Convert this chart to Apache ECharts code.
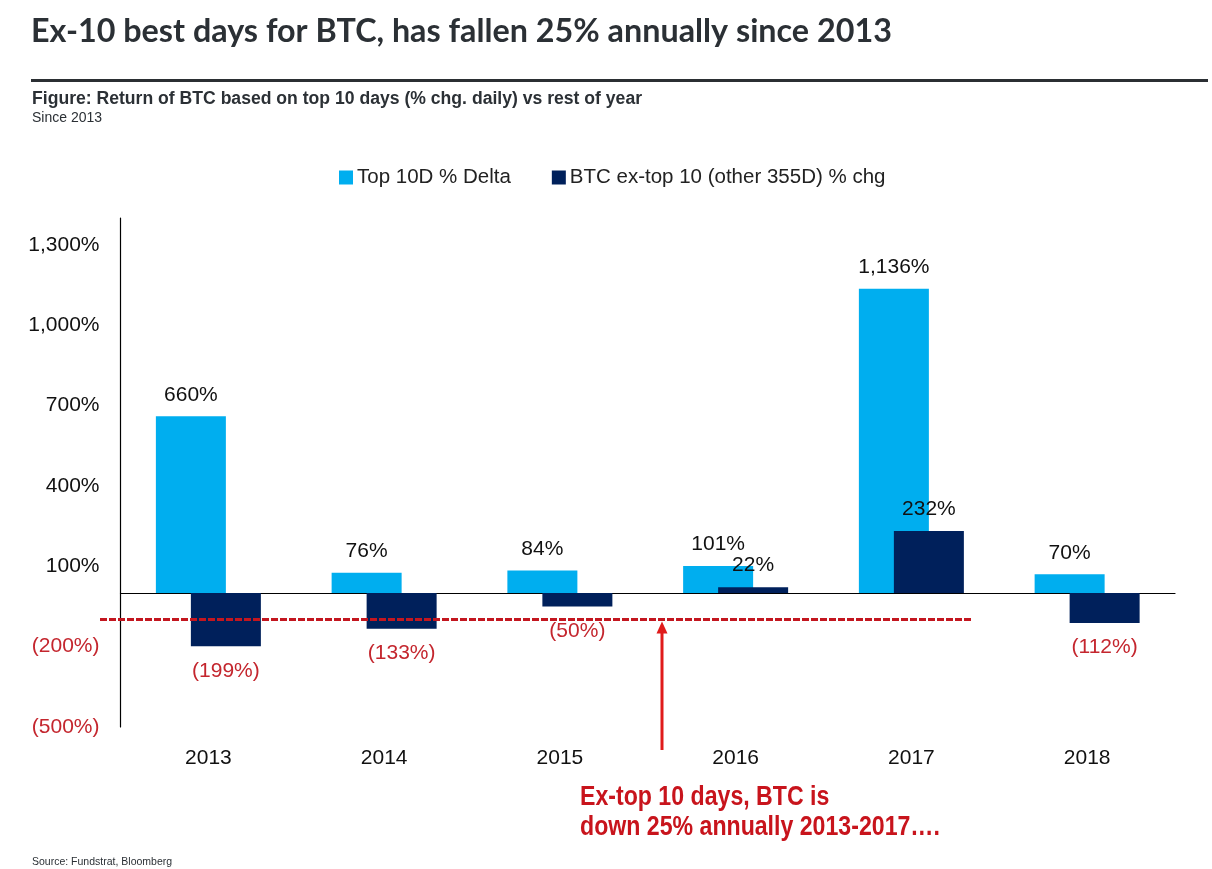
<!DOCTYPE html>
<html>
<head>
<meta charset="utf-8">
<title>BTC ex-10 best days</title>
<style>
	html, body { margin: 0; padding: 0; background: #fff; }
	#chart { width: 1212px; height: 869px; }
</style>
<script src="https://cdn.jsdelivr.net/npm/echarts@6/dist/echarts.min.js"></script>
</head>
<body>
<div id="chart"></div>
<script>
var years = ['2013', '2014', '2015', '2016', '2017', '2018'];
var top10Values = [660, 76, 84, 101, 1136, 70];
var exTop10Values = [-199, -133, -50, 22, 232, -112];
var seriesNames = ['Top 10D % Delta', 'BTC ex-top 10 (other 355D) % chg'];
// average of the red dashed line
var dashedLevel = -99;

var SANS = '"Liberation Sans", Arial, sans-serif';
var RED = '#c4262e';

// 1136 -> 1,136%  -199 -> (199%)
function pct(v) {
	var s = Math.abs(v).toLocaleString('en-US') + '%';
	return v < 0 ? '(' + s + ')' : s;
}

// negative values carry a red label, positive ones stay black
function barData(values) {
	var out = [];
	for (var i = 0; i < values.length; i++) {
		out[i] = {
			value: values[i],
			label: {
				position: values[i] < 0 ? 'bottom' : 'top',
				distance: values[i] < 0 ? 14 : 11,
				color: values[i] < 0 ? RED : '#111'
			}
		};
	}
	return out;
}

function barSeries(name, values, color) {
	return {
		name: name,
		type: 'bar',
		barWidth: 70,
		barGap: '-50%',
		itemStyle: { color: color },
		label: {
			show: true,
			fontFamily: SANS,
			fontSize: 21,
			formatter: function(p) { return pct(p.value); }
		},
		data: barData(values)
	};
}

var myChart = echarts.init(document.getElementById('chart'));

var option = {
	animation: false,
	backgroundColor: '#fff',
	title: [
		{
			text: 'Ex-10 best days for BTC, has fallen 25% annually since 2013',
			left: 26, top: 11,
			textStyle: { fontFamily: 'Lato', fontWeight: 'bold', fontSize: 32.3, color: '#2b3035' }
		},
		{
			text: 'Figure: Return of BTC based on top 10 days (% chg. daily) vs rest of year',
			left: 27, top: 85,
			textStyle: { fontFamily: SANS, fontWeight: 'bold', fontSize: 17.6, color: '#2b3035' }
		},
		{
			text: 'Since 2013',
			left: 27, top: 106,
			textStyle: { fontFamily: SANS, fontWeight: 'normal', fontSize: 14, color: '#2b3035' }
		},
		{
			text: 'Source: Fundstrat, Bloomberg',
			left: 27, top: 852,
			textStyle: { fontFamily: SANS, fontWeight: 'normal', fontSize: 10.5, color: '#2b3035' }
		}
	],
	legend: {
		left: 334,
		top: 162,
		icon: 'rect',
		itemWidth: 14,
		itemHeight: 14,
		itemGap: 41,
		textStyle: { fontFamily: SANS, fontSize: 20.5, color: '#222', padding: [0, 0, 0, -1] },
		data: seriesNames
	},
	grid: { left: 120.5, right: 37, top: 218, bottom: 142 },
	xAxis: [
		{
			type: 'category',
			data: years,
			position: 'bottom',
			axisLine: { show: false, onZero: false },
			axisTick: { show: false },
			axisLabel: { fontFamily: SANS, fontSize: 21, color: '#111', margin: 21 }
		},
		{
			// the zero line, no labels
			type: 'category',
			data: years,
			axisLine: { onZero: true, lineStyle: { color: '#000', width: 1.2 } },
			axisTick: { show: false },
			axisLabel: { show: false }
		}
	],
	yAxis: {
		type: 'value',
		min: -500,
		max: 1400,
		interval: 300,
		splitLine: { show: false },
		axisLine: { show: true, lineStyle: { color: '#000', width: 1.2 } },
		axisTick: { show: false },
		axisLabel: {
			showMaxLabel: false,
			margin: 21,
			padding: [2, 0, 0, 0],
			fontFamily: SANS,
			fontSize: 21,
			color: function(v) { return v < 0 ? RED : '#111'; },
			formatter: function(v) { return v > 1300 ? '' : pct(v); }
		}
	},
	series: [
		barSeries(seriesNames[0], top10Values, '#00aeef'),
		barSeries(seriesNames[1], exTop10Values, '#00205b')
	]
};
myChart.setOption(option);

// annotations sit on top of the chart, the line follows the y scale
var lineY = myChart.convertToPixel({ yAxisIndex: 0 }, dashedLevel);
myChart.setOption({
	graphic: [
		{
			type: 'rect',
			z: 50,
			shape: { x: 31, y: 79, width: 1177, height: 3 },
			style: { fill: '#2b2f33' }
		},
		{
			type: 'line',
			z: 50,
			shape: { x1: 100, y1: lineY, x2: 971, y2: lineY },
			style: { stroke: '#c3161f', lineWidth: 3, lineDash: [7, 2] }
		},
		{
			type: 'line',
			z: 50,
			shape: { x1: 662, y1: 750, x2: 662, y2: lineY + 10 },
			style: { stroke: '#e01b1b', lineWidth: 3 }
		},
		{
			type: 'polygon',
			z: 50,
			shape: { points: [[662, lineY + 2], [656.5, lineY + 14], [667.5, lineY + 14]] },
			style: { fill: '#e01b1b' }
		},
		{
			type: 'text',
			z: 50,
			x: 580, y: 782,
			scaleX: 0.826,
			style: {
				text: 'Ex-top 10 days, BTC is\ndown 25% annually 2013-2017….',
				fontFamily: SANS,
				fontWeight: 'bold',
				fontSize: 28,
				lineHeight: 30,
				fill: '#c8141c'
			}
		}
	]
});
</script>
</body>
</html>
